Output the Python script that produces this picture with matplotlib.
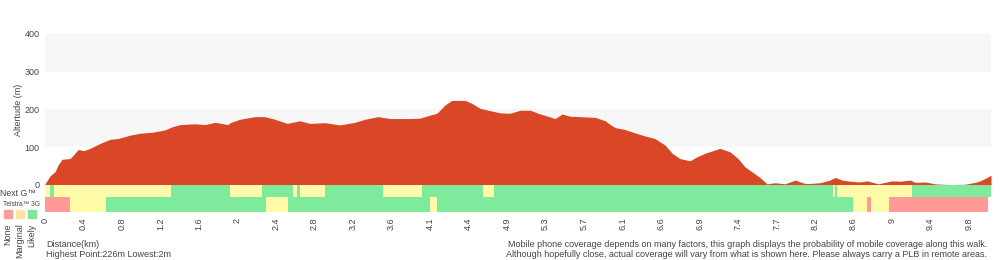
import matplotlib.pyplot as plt

plt.rcParams['font.family'] = ['Liberation Sans', 'DejaVu Sans']

# sample position along the walk (10 samples per distance tick)
pos = [0, 1.3, 2.6, 3.4, 4.4, 6.5, 7.0, 8.6, 10.1, 11.7, 14.3, 16.9, 19.0, 22.1, 24.7,
       28.1, 31.2, 33.0, 35.1, 39.0, 41.6, 44.2, 47.5, 48.1, 50.6, 54.5, 57.1, 59.7,
       62.9, 66.2, 68.8, 72.7, 76.6, 80.5, 83.1, 86.5, 89.6, 94.8, 97.4, 100.0, 101.8,
       103.9, 105.7, 109.1, 110.9, 113.0, 115.6, 118.2, 120.8, 123.4, 126.0, 128.6,
       130.6, 132.5, 134.3, 136.4, 139.0, 142.9, 145.5, 146.8, 148.1, 150.6, 153.2,
       155.8, 158.4, 161.0, 162.9, 164.9, 167.5, 169.4, 171.4, 173.2, 175.3, 177.9,
       180.0, 181.8, 183.6, 185.7, 187.5, 189.6, 192.2, 194.8, 197.4, 198.7, 201.3,
       203.9, 205.2, 207.0, 209.1, 211.7, 213.5, 216.4, 220.0, 222.1, 224.7, 226.0,
       228.6, 231.2, 235.1, 239.0, 241.6, 242.9, 244.7, 245.7]
elev = [3, 24, 35, 53, 68, 70, 75, 94, 91, 97, 110, 121, 123, 132, 137,
        140, 146, 154, 160, 162, 160, 166, 160, 165, 174, 181, 181, 174,
        163, 170, 163, 165, 159, 166, 174, 181, 176, 176, 177, 185, 190,
        212, 224, 224, 216, 203, 197, 191, 190, 198, 198, 188,
        182, 176, 188, 182, 181, 179, 170, 160, 152, 147, 138,
        130, 123, 106, 84, 70, 64, 75, 84, 90, 97, 88,
        70, 48, 35, 20, 3, 6, 3, 13, 4, 4, 6,
        13, 20, 13, 10, 8, 11, 3, 11, 10, 13, 7,
        8, 3, 1, 2, 7, 11, 20, 26]

tick_labels = ['0', '0.4', '0.8', '1.2', '1.6', '2', '2.4', '2.8', '3.2', '3.6', '4.1', '4.4',
               '4.9', '5.3', '5.7', '6.1', '6.6', '6.9', '7.4', '7.7', '8.2', '8.6', '9',
               '9.4', '9.8']

# coverage segments: (start, end, level)  level: 0 none, 1 marginal, 2 likely
nextg = [(0, 1.3, 1), (1.3, 2.3, 2), (2.3, 32.7, 1), (32.7, 48.1, 2), (48.1, 56.4, 1),
         (56.4, 64.4, 2), (64.4, 65.5, 1), (65.5, 66.2, 2), (66.2, 72.7, 1), (72.7, 87.8, 2),
         (87.8, 97.9, 1), (97.9, 113.8, 2), (113.8, 116.6, 1), (116.6, 204.7, 2),
         (204.7, 205.2, 1), (205.2, 205.7, 2), (205.7, 225.2, 1), (225.2, 245.7, 2)]
telstra = [(0, 6.5, 0), (6.5, 15.8, 1), (15.8, 57.4, 2), (57.4, 63.1, 1), (63.1, 100.0, 2),
           (100.0, 101.8, 1), (101.8, 209.9, 2), (209.9, 213.5, 1), (213.5, 214.5, 0),
           (214.5, 219.2, 1), (219.2, 244.9, 0)]

cov_colors = ['#ff9a97', '#fffba8', '#7deb9b']
legend_colors = ['#ff9d9d', '#ffe3a3', '#7de89a']
legend_names = ['None', 'Marginal', 'Likely']
txt = '#444444'
xmax = 245.7

fig = plt.figure(figsize=(10, 2.6), dpi=100)
ax = fig.add_axes([0.045, 0.2885, 0.946, 0.581])
for lo, hi in [(100, 200), (300, 400)]:
    ax.axhspan(lo, hi, color='#f7f7f7', lw=0, zorder=0)
ax.fill_between(pos, elev, 0, color='#da4727', lw=0, zorder=2)
ax.set_xlim(0, xmax)
ax.set_ylim(0, 400)
ax.set_yticks([0, 100, 200, 300, 400])
ax.tick_params(axis='y', length=0, labelsize=6.5, labelcolor=txt, pad=4)
ax.set_xticks([])
for s in ax.spines.values():
    s.set_visible(False)
ax.set_ylabel('Altertude (m)', fontsize=6.5, color=txt, labelpad=1)

cx = fig.add_axes([0.045, 0.1846, 0.946, 0.104])
for a, b, lvl in nextg:
    cx.broken_barh([(a, b - a)], (15, 12), color=cov_colors[lvl], lw=0)
for a, b, lvl in telstra:
    cx.broken_barh([(a, b - a)], (0, 15), color=cov_colors[lvl], lw=0)
cx.set_xlim(0, xmax)
cx.set_ylim(0, 27)
cx.set_yticks([])
cx.set_xticks([i * 10 for i in range(len(tick_labels))])
cx.set_xticklabels(tick_labels, rotation=90, fontsize=6.5, color=txt)
cx.tick_params(axis='x', length=0, pad=4)
for s in cx.spines.values():
    s.set_visible(False)

fig.text(0.0, 0.255, 'Next G™', fontsize=6.3, color=txt, va='center')
fig.text(0.003, 0.215, 'Telstra™ 3G', fontsize=4.8, color=txt, va='center')
for i, (c, n) in enumerate(zip(legend_colors, legend_names)):
    x0 = 0.004 + i * 0.012
    fig.patches.append(plt.Rectangle((x0, 0.162), 0.008, 0.03, color=c,
                                     transform=fig.transFigure, figure=fig))
    fig.text(x0 + 0.004, 0.14, n, rotation=90, fontsize=6.5, color=txt,
             ha='center', va='top')

fig.text(0.046, 0.058, 'Distance(km)', fontsize=6.5, color=txt, va='center')
fig.text(0.046, 0.02, 'Highest Point:226m Lowest:2m', fontsize=6.5, color=txt, va='center')
fig.text(0.987, 0.058, 'Mobile phone coverage depends on many factors, this graph displays '
         'the probability of mobile coverage along this walk.', fontsize=6.5, color=txt,
         va='center', ha='right')
fig.text(0.987, 0.02, 'Although hopefully close, actual coverage will vary from what is '
         'shown here. Please always carry a PLB in remote areas.', fontsize=6.5, color=txt,
         va='center', ha='right')

fig.savefig('out.png', dpi=100)
